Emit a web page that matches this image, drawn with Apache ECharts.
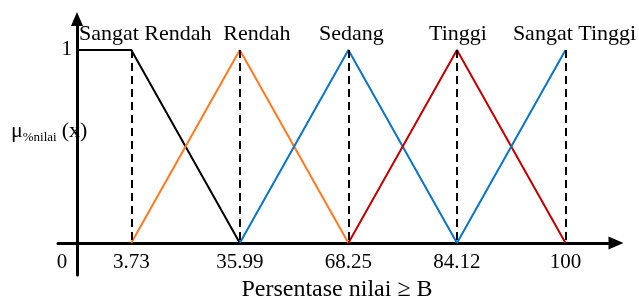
<!DOCTYPE html>
<html>
<head>
<meta charset="utf-8">
<script src="https://cdn.jsdelivr.net/npm/echarts@6/dist/echarts.min.js"></script>
<style>
  html, body { margin: 0; padding: 0; background: #fff; }
  #chart { width: 639px; height: 299px; }
</style>
</head>
<body>
<div id="chart"></div>
<script>
// tick labels along the x axis (0 is the origin)
const ticks = ['0', '3.73', '35.99', '68.25', '84.12', '100'];
const setNames = ['Sangat Rendah', 'Rendah', 'Sedang', 'Tinggi', 'Sangat Tinggi'];
// membership degree at each tick, null = not part of the set
const muSangatRendah = [1, 1, 0, null, null, null];
const muRendah = [null, 0, 1, 0, null, null];
const muSedang = [null, null, 0, 1, 0, null];
const muTinggi = [null, null, null, 0, 1, 0];
const muSangatTinggi = [null, null, null, null, 0, 1];
const setColors = ['#000000', '#FF7A21', '#0B74C4', '#C00000', '#0B74C4'];
const labelShift = [14, 17, 3, 1, 9];

const FONT = 'Liberation Serif';

// ticks after the origin sit on an even spacing
const pos = (i) => (i === 0 ? 0 : i - 0.5);

const memberships = [muSangatRendah, muRendah, muSedang, muTinggi, muSangatTinggi];

const chartDom = document.getElementById('chart');
const myChart = echarts.init(chartDom);

const series = memberships.map((mu, k) => {
  let peak = -1;
  mu.forEach((v, i) => { if (v === 1) peak = i; });
  const data = [];
  mu.forEach((v, i) => {
    if (v === null) return;
    const item = { value: [pos(i), v] };
    if (i === peak) {
      item.label = {
        show: true,
        position: 'top',
        distance: 5,
        offset: [labelShift[k], 0],
        formatter: setNames[k],
        fontFamily: FONT,
        fontSize: 22,
        color: '#000'
      };
    }
    data.push(item);
  });
  return {
    name: setNames[k],
    type: 'line',
    data: data,
    symbol: 'circle',
    symbolSize: 0,
    showSymbol: true,
    clip: false,
    z: 3,
    lineStyle: { color: setColors[k], width: 2 },
    itemStyle: { color: setColors[k] }
  };
});

// dashed guides at each tick
series.push({
  type: 'line',
  data: [],
  markLine: {
    silent: true,
    symbol: 'none',
    label: { show: false },
    lineStyle: { color: '#000', type: [8, 5], width: 2 },
    data: ticks.slice(1).map((t, j) => [
      { coord: [pos(j + 1), 1] },
      { coord: [pos(j + 1), 0] }
    ])
  },
  z: 2
});

const option = {
  backgroundColor: '#fff',
  animation: false,
  grid: { left: 58, right: 23, top: 19, bottom: 24, outerBoundsMode: 'none', containLabel: false },
  xAxis: {
    type: 'value',
    min: -0.175,
    max: 4.965,
    splitLine: { show: false },
    axisLine: {
      onZero: true,
      symbol: ['none', 'triangle'],
      symbolSize: [13, 15],
      lineStyle: { color: '#000', width: 3 }
    },
    axisTick: { show: false },
    axisLabel: {
      customValues: ticks.map((t, i) => pos(i)),
      margin: -23,
      fontFamily: FONT,
      fontSize: 21,
      color: '#000',
      formatter: (v) => {
        const i = ticks.findIndex((t, j) => Math.abs(pos(j) - v) < 1e-6);
        if (i === 0) return '{z|0}';
        return i >= 0 ? ticks[i] : '';
      },
      rich: { z: { fontFamily: FONT, fontSize: 21, color: '#000', padding: [0, 30, 0, 0] } }
    },
    name: 'Persentase nilai \u2265 B',
    nameLocation: 'middle',
    nameGap: 3,
    nameTextStyle: { fontFamily: FONT, fontSize: 24, color: '#000' }
  },
  yAxis: {
    type: 'value',
    min: -0.166,
    max: 1.16,
    splitLine: { show: false },
    axisLine: {
      onZero: true,
      symbol: ['none', 'triangle'],
      symbolSize: [12, 14],
      lineStyle: { color: '#000', width: 3 }
    },
    axisTick: { show: false },
    axisLabel: {
      customValues: [1],
      margin: -14,
      fontFamily: FONT,
      fontSize: 21,
      color: '#000'
    }
  },
  graphic: [{
    type: 'text',
    left: 11,
    top: 120,
    style: {
      text: '{m|\u03bc}{s|%nilai}{p|(x)}',
      rich: {
        m: { fontFamily: FONT, fontSize: 22, lineHeight: 24, verticalAlign: 'top', fill: '#000' },
        p: { fontFamily: FONT, fontSize: 22, lineHeight: 24, verticalAlign: 'top', fill: '#000', padding: [0, 0, 0, 5] },
        s: { fontFamily: FONT, fontSize: 13, lineHeight: 16, verticalAlign: 'bottom', fill: '#000' }
      }
    }
  }],
  series: series
};

myChart.setOption(option);
</script>
</body>
</html>
